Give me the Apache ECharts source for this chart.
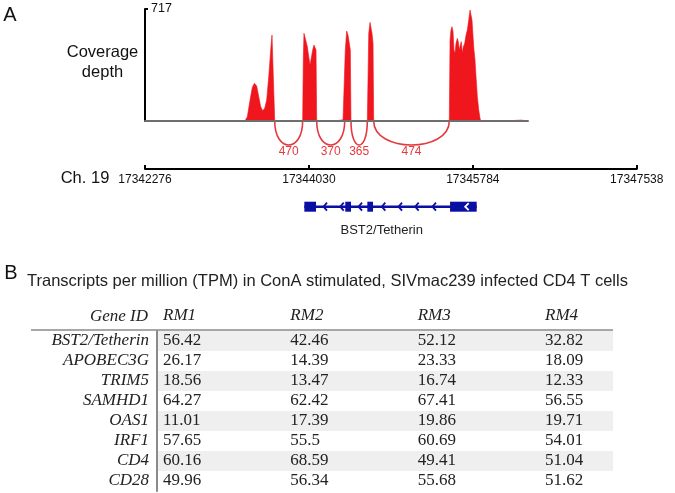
<!DOCTYPE html>
<html><head><meta charset="utf-8">
<script src="https://cdn.jsdelivr.net/npm/echarts@6/dist/echarts.min.js"></script>
<style>html,body{margin:0;padding:0;background:#fff}#c{width:675px;height:493px}</style>
</head><body><div id="c"></div>
<script>
// ---------- data ----------
const BASE = 17342276;
const axisTickStep = 1754;
const axisEnd = 17347538;
const coverageEnd = 17346374;
const depthMax = 717;

const coveragePos = [17342276,17343346,17343371,17343400,17343424,17343446,17343471,17343493,17343514,17343535,17343557,17343578,17343600,17343621,17343635,17343649,17343656,17343664,
  17343963,17343970,17343977,17343991,17344013,17344028,17344042,17344055,17344070,17344084,17344098,17344106,17344113,
  17344302,17344305,17344395,17344398,
  17344413,17344419,17344434,17344448,17344462,17344473,17344480,
  17344655,17344670,17344684,17344694,17344705,17344716,17344723,
  17345532,17345540,17345550,17345561,17345572,17345582,17345593,17345604,17345618,17345628,17345639,17345650,17345660,17345671,17345682,17345697,17345711,17345725,17345740,17345754,17345764,17345775,17345786,17345796,17345807,17345818,17345832,17345847,17345861,17345868,
  17346128,17346135,17346300,17346310,17346374];
const coverageDepth = [0,0,28,134,215,241,224,156,92,66,81,134,284,454,550,561,540,0,
  0,400,561,529,476,412,358,401,454,486,497,455,0,
  0,10,8,0,
  0,450,576,550,497,454,0,
  0,561,631,625,561,497,0,
  0,518,582,604,572,454,433,497,529,508,454,486,508,433,476,497,550,582,646,710,715,646,540,454,390,284,156,70,17,0,
  0,8,6,0,0];

const junctionStart = [17343664, 17344113, 17344480, 17344723];
const junctionEnd   = [17343963, 17344413, 17344655, 17345532];
const junctionCount = [470, 370, 365, 474];

const geneName = 'BST2/Tetherin';
const geneStart = 17343981, geneEnd = 17345825;
const exonStart = [17343981, 17344419, 17344655, 17345540];
const exonEnd   = [17344106, 17344480, 17344716, 17345825];
const strandMarks = [17344202, 17344381, 17344577, 17344826, 17345005, 17345183, 17345368];
const strandMarksInExon = [17345718];

const tableTitle = 'Transcripts per million (TPM) in ConA stimulated, SIVmac239 infected CD4 T cells';
const genes = ['BST2/Tetherin','APOBEC3G','TRIM5','SAMHD1','OAS1','IRF1','CD4','CD28'];
const samples = ['RM1','RM2','RM3','RM4'];
const rm1 = [56.42, 26.17, 18.56, 64.27, 11.01, 57.65, 60.16, 49.96];
const rm2 = [42.46, 14.39, 13.47, 62.42, 17.39, 55.5, 68.59, 56.34];
const rm3 = [52.12, 23.33, 16.74, 67.41, 19.86, 60.69, 49.41, 55.68];
const rm4 = [32.82, 18.09, 12.33, 56.55, 19.71, 54.01, 51.04, 51.62];

// ---------- chart ----------
const RED = '#f0161e', ARC = '#e43a3e', BLUE = '#0a0fa3';
const SANS = 'Liberation Sans', SERIF = 'Liberation Serif';
const PXBP = 10.7;
const cols = [rm1, rm2, rm3, rm4];
const tableData = [];
genes.forEach((g, i) => cols.forEach((c, j) => tableData.push([j, i, c[i]])));

const chart = echarts.init(document.getElementById('c'), null, {renderer: 'canvas'});
const hid = {show: false};
const noSplit = {show: false};
const gBase = {containLabel: false, outerBoundsMode: 'none'};

const option = {
  animation: false,
  backgroundColor: '#fff',
  grid: [
    Object.assign({left: 145, top: 9, width: (coverageEnd - BASE) / PXBP, height: 112}, gBase),
    Object.assign({left: 145, top: 169, width: (axisEnd - BASE) / PXBP, height: 20}, gBase),
    Object.assign({left: 145, top: 196.7, width: (axisEnd - BASE) / PXBP, height: 20}, gBase),
    Object.assign({left: 163, top: 331, width: 382, height: 160}, gBase),
    Object.assign({left: 157, top: 331, width: 456, height: 160}, gBase)
  ],
  xAxis: [
    {gridIndex: 0, type: 'value', min: 0, max: coverageEnd - BASE, z: 5,
     axisLine: {show: true, lineStyle: {color: '#6e6e6e', width: 2}}, axisTick: hid, axisLabel: hid, splitLine: noSplit},
    {gridIndex: 1, type: 'value', position: 'top', min: 0, max: axisEnd - BASE, interval: axisTickStep,
     axisLine: {show: true, onZero: false, lineStyle: {color: '#000', width: 2}},
     axisTick: {show: true, inside: false, length: 4, lineStyle: {color: '#000', width: 2}},
     axisLabel: {inside: true, margin: 5, fontSize: 12, fontFamily: SANS, color: '#111', showMinLabel: true, showMaxLabel: true,
       formatter: v => String(BASE + v)},
     splitLine: noSplit},
    {gridIndex: 2, type: 'value', min: 0, max: axisEnd - BASE, show: false},
    {gridIndex: 3, type: 'category', data: samples, boundaryGap: false, position: 'top',
     axisLine: {show: false, onZero: false}, axisTick: hid, splitLine: noSplit,
     axisLabel: {align: 'left', fontStyle: 'italic', fontFamily: SERIF, fontSize: 17, color: '#222', margin: 7, interval: 0}},
    {gridIndex: 4, type: 'value', min: 0, max: 1, show: false}
  ],
  yAxis: [
    {gridIndex: 0, type: 'value', min: 0, max: depthMax, interval: depthMax,
     axisLine: {show: true, lineStyle: {color: '#000', width: 2}},
     axisTick: {show: true, inside: true, length: 3, lineStyle: {color: '#000', width: 2}},
     axisLabel: {inside: true, margin: 6, fontSize: 12.5, fontFamily: SANS, color: '#111',
       formatter: v => v === depthMax ? String(depthMax) : ''},
     splitLine: noSplit},
    {gridIndex: 1, type: 'value', min: 0, max: 1, show: false},
    {gridIndex: 2, type: 'value', min: -1, max: 1, show: false},
    {gridIndex: 3, type: 'category', data: genes, inverse: true, show: false},
    {gridIndex: 4, type: 'category', data: genes, inverse: true,
     axisLine: {show: true, onZero: false, lineStyle: {color: '#8a8a8a', width: 2}}, axisTick: hid,
     axisLabel: {fontStyle: 'italic', fontFamily: SERIF, fontSize: 17, color: '#222', margin: 8, interval: 0},
     splitLine: noSplit,
     splitArea: {show: true, interval: 0, areaStyle: {color: ['#efefef', '#ffffff']}}}
  ],
  series: [
    {type: 'line', xAxisIndex: 0, yAxisIndex: 0, showSymbol: false, smooth: false,
     data: coveragePos.map((p, i) => [p - BASE, coverageDepth[i]]),
     lineStyle: {color: RED, width: 0.6}, areaStyle: {color: RED, opacity: 1}, z: 2},
    {type: 'custom', xAxisIndex: 0, yAxisIndex: 0, clip: false, z: 3,
     data: junctionStart.map((s, i) => [s - BASE, junctionEnd[i] - BASE, junctionCount[i]]),
     renderItem: (params, api) => {
       const a = api.coord([api.value(0), 0]), b = api.coord([api.value(1), 0]);
       const d = 32;
       return {type: 'group', children: [
         {type: 'bezierCurve', shape: {x1: a[0], y1: a[1], x2: b[0], y2: b[1], cpx1: a[0], cpy1: a[1] + d, cpx2: b[0], cpy2: b[1] + d},
          style: {stroke: ARC, fill: null, lineWidth: 1.6}},
         {type: 'text', x: (a[0] + b[0]) / 2, y: a[1] + 30.7,
          style: {text: String(api.value(2)), fill: ARC, fontSize: 12, fontFamily: SANS, align: 'center', verticalAlign: 'middle'}}
       ]};
     }},
    {type: 'custom', xAxisIndex: 2, yAxisIndex: 2, clip: false,
     data: [[geneStart - BASE, geneEnd - BASE]],
     renderItem: (params, api) => {
       const a = api.coord([api.value(0), 0]), b = api.coord([api.value(1), 0]);
       return {type: 'rect', shape: {x: a[0], y: a[1] - 1.3, width: b[0] - a[0], height: 2.6}, style: {fill: BLUE}};
     }},
    {type: 'custom', xAxisIndex: 2, yAxisIndex: 2, clip: false,
     data: exonStart.map((s, i) => [s - BASE, exonEnd[i] - BASE]),
     renderItem: (params, api) => {
       const a = api.coord([api.value(0), 0]), b = api.coord([api.value(1), 0]);
       return {type: 'rect', shape: {x: a[0], y: a[1] - 5, width: b[0] - a[0], height: 10}, style: {fill: BLUE}};
     }},
    {type: 'custom', xAxisIndex: 2, yAxisIndex: 2, clip: false,
     data: strandMarks.map(p => [p - BASE, 0]),
     renderItem: (params, api) => {
       const c = api.coord([api.value(0), 0]);
       return {type: 'polyline', shape: {points: [[c[0] + 2, c[1] - 4], [c[0] - 1.5, c[1]], [c[0] + 2, c[1] + 4]]},
               style: {stroke: BLUE, fill: null, lineWidth: 1.8}};
     }},
    {type: 'custom', xAxisIndex: 2, yAxisIndex: 2, clip: false, z: 4,
     data: strandMarksInExon.map(p => [p - BASE, 0]),
     renderItem: (params, api) => {
       const c = api.coord([api.value(0), 0]);
       return {type: 'polyline', shape: {points: [[c[0] + 2, c[1] - 3.5], [c[0] - 1.5, c[1]], [c[0] + 2, c[1] + 3.5]]},
               style: {stroke: '#fff', fill: null, lineWidth: 1.8}};
     }},
    {type: 'custom', xAxisIndex: 3, yAxisIndex: 3, clip: false,
     data: tableData,
     renderItem: (params, api) => {
       const c = api.coord([api.value(0), api.value(1)]);
       return {type: 'text', x: c[0], y: c[1],
               style: {text: String(api.value(2)), fill: '#222', fontSize: 17, fontFamily: SERIF, align: 'left', verticalAlign: 'middle'}};
     }}
  ],
  graphic: [
    {type: 'text', x: 10, y: 15, style: {text: 'A', fontSize: 20, fontFamily: SANS, fill: '#111', align: 'center', verticalAlign: 'middle'}},
    {type: 'text', x: 102.5, y: 62.5, style: {text: 'Coverage\ndepth', fontSize: 16.5, lineHeight: 20, fontFamily: SANS, fill: '#111', align: 'center', verticalAlign: 'middle'}},
    {type: 'text', x: 85, y: 178, style: {text: 'Ch. 19', fontSize: 16.5, fontFamily: SANS, fill: '#111', align: 'center', verticalAlign: 'middle'}},
    {type: 'text', x: 381.7, y: 230, style: {text: geneName, fontSize: 13, fontFamily: SANS, fill: '#222', align: 'center', verticalAlign: 'middle'}},
    {type: 'text', x: 11, y: 273, style: {text: 'B', fontSize: 20, fontFamily: SANS, fill: '#111', align: 'center', verticalAlign: 'middle'}},
    {type: 'text', x: 27, y: 281.5, style: {text: tableTitle, fontSize: 16.5, fontFamily: SANS, fill: '#222', align: 'left', verticalAlign: 'middle'}},
    {type: 'text', x: 148, y: 316.7, style: {text: 'Gene ID', fontSize: 17, fontStyle: 'italic', fontFamily: SERIF, fill: '#222', align: 'right', verticalAlign: 'middle'}},
    {type: 'line', shape: {x1: 31, y1: 330, x2: 613, y2: 330}, style: {stroke: '#8a8a8a', lineWidth: 1.5}}
  ]
};
chart.setOption(option);
</script></body></html>
